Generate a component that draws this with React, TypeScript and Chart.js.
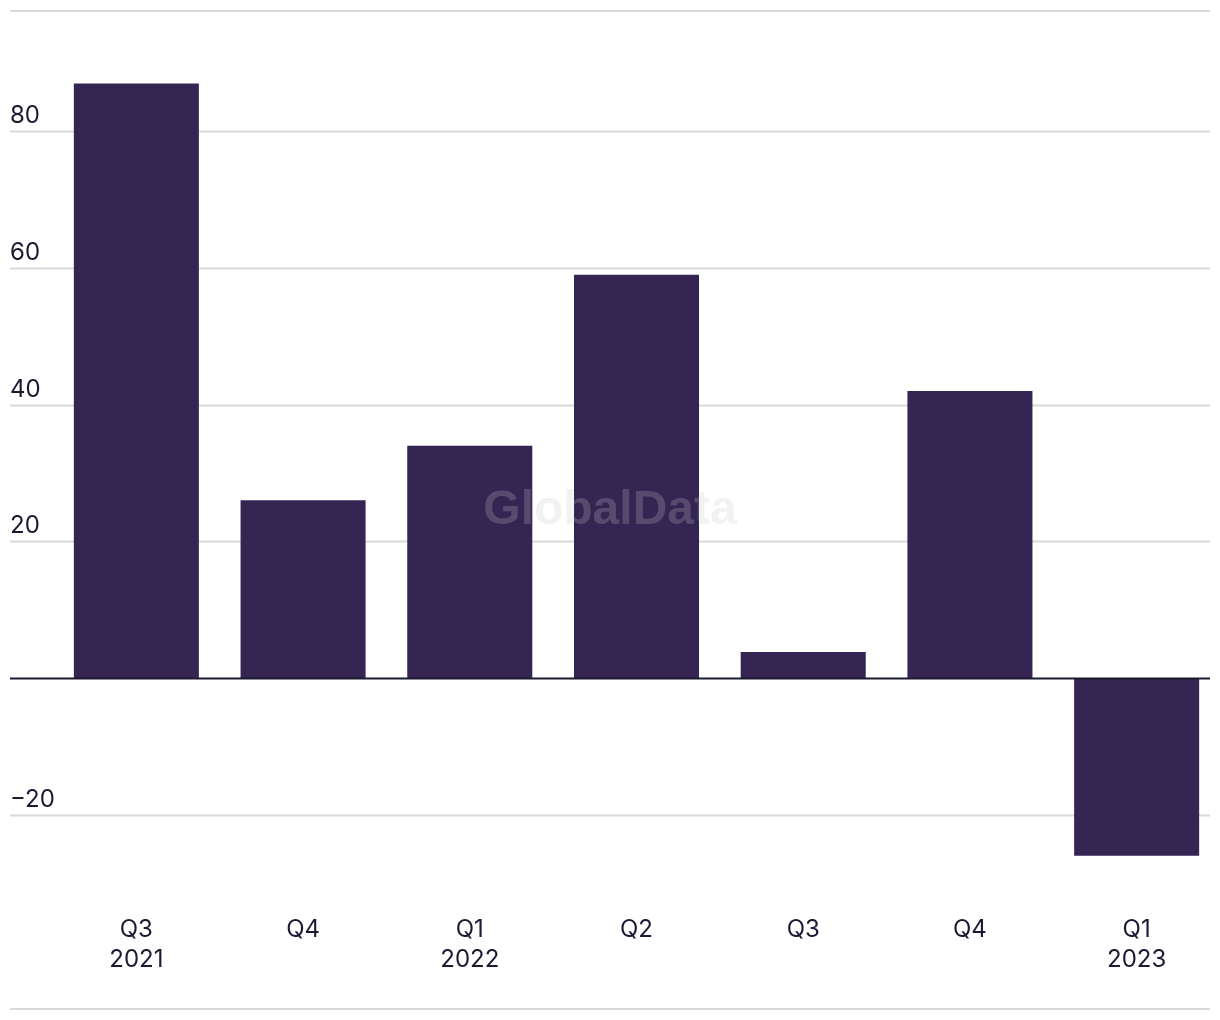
import React, { useEffect, useRef } from "react";
import { Chart, registerables } from "chart.js";

Chart.register(...registerables);

const categories: (string | string[])[] = [
  ["Q3", "2021"],
  "Q4",
  ["Q1", "2022"],
  "Q2",
  "Q3",
  "Q4",
  ["Q1", "2023"],
];
const values: number[] = [87, 26, 34, 59, 3.8, 42, -26];
const yTickValues: number[] = [-20, 0, 20, 40, 60, 80];
const yTickLabels: string[] = ["\u221220", "", "20", "40", "60", "80"];

const BAR = "#352552";
const TEXT = "#1c1a33";
const FONT = "Inter, 'Noto Sans', sans-serif";

const decorPlugin = {
  id: "decor",
  beforeDatasetsDraw(chart: any) {
    const ctx = chart.ctx;
    const y = chart.scales.y;
    const W = chart.width;
    ctx.save();
    ctx.lineWidth = 2;
    ctx.strokeStyle = "#d9d9d9";
    [11, 1009].forEach((py) => {
      ctx.beginPath();
      ctx.moveTo(10, py);
      ctx.lineTo(W - 10, py);
      ctx.stroke();
    });
    yTickValues.forEach((v, i) => {
      const py = Math.round(y.getPixelForValue(v)) + 0.5;
      if (v !== 0) {
        ctx.strokeStyle = "#d9d9d9";
        ctx.beginPath();
        ctx.moveTo(10, py);
        ctx.lineTo(W - 10, py);
        ctx.stroke();
      }
      if (yTickLabels[i]) {
        ctx.fillStyle = TEXT;
        ctx.font = `24px ${FONT}`;
        ctx.textAlign = "left";
        ctx.textBaseline = "alphabetic";
        ctx.fillText(yTickLabels[i], 10, py - 9);
      }
    });
    ctx.restore();
  },
  afterDatasetsDraw(chart: any) {
    const ctx = chart.ctx;
    const y = chart.scales.y;
    const W = chart.width;
    ctx.save();
    const py = Math.round(y.getPixelForValue(0)) + 0.5;
    ctx.strokeStyle = "#1c1a2e";
    ctx.lineWidth = 2;
    ctx.beginPath();
    ctx.moveTo(10, py);
    ctx.lineTo(W - 10, py);
    ctx.stroke();
    ctx.font = `bold 48px 'Liberation Sans', Arial, sans-serif`;
    ctx.fillStyle = "rgba(200,200,205,0.23)";
    ctx.textAlign = "center";
    ctx.textBaseline = "middle";
    ctx.fillText("GlobalData", 610, 511);
    ctx.restore();
  },
};

export default function App() {
  const ref = useRef<HTMLCanvasElement>(null);
  useEffect(() => {
    if (!ref.current) return;
    const chart = new Chart(ref.current, {
      type: "bar",
      data: {
        labels: categories,
        datasets: [
          {
            data: values,
            backgroundColor: BAR,
            borderWidth: 0,
            barPercentage: 0.75,
            categoryPercentage: 1,
          },
        ],
      },
      options: {
        animation: false,
        responsive: false,
        layout: { padding: { top: 63, left: 53, right: 0, bottom: 13 } },
        plugins: {
          legend: { display: false },
          tooltip: { enabled: false },
        },
        scales: {
          x: {
            grid: { display: false, drawTicks: false },
            border: { display: false },
            ticks: {
              color: TEXT,
              font: { family: FONT, size: 24, lineHeight: 1.25 },
              padding: 32,
              maxRotation: 0,
              autoSkip: false,
            },
          },
          y: {
            display: false,
            min: -30,
            max: 90,
          },
        },
      },
      plugins: [decorPlugin],
    });
    return () => chart.destroy();
  }, []);
  return (
    <div style={{ position: "absolute", left: 0, top: 0, width: 1220, height: 1020, background: "#fff" }}>
      <canvas ref={ref} width={1220} height={1020} style={{ display: "block" }} />
    </div>
  );
}
